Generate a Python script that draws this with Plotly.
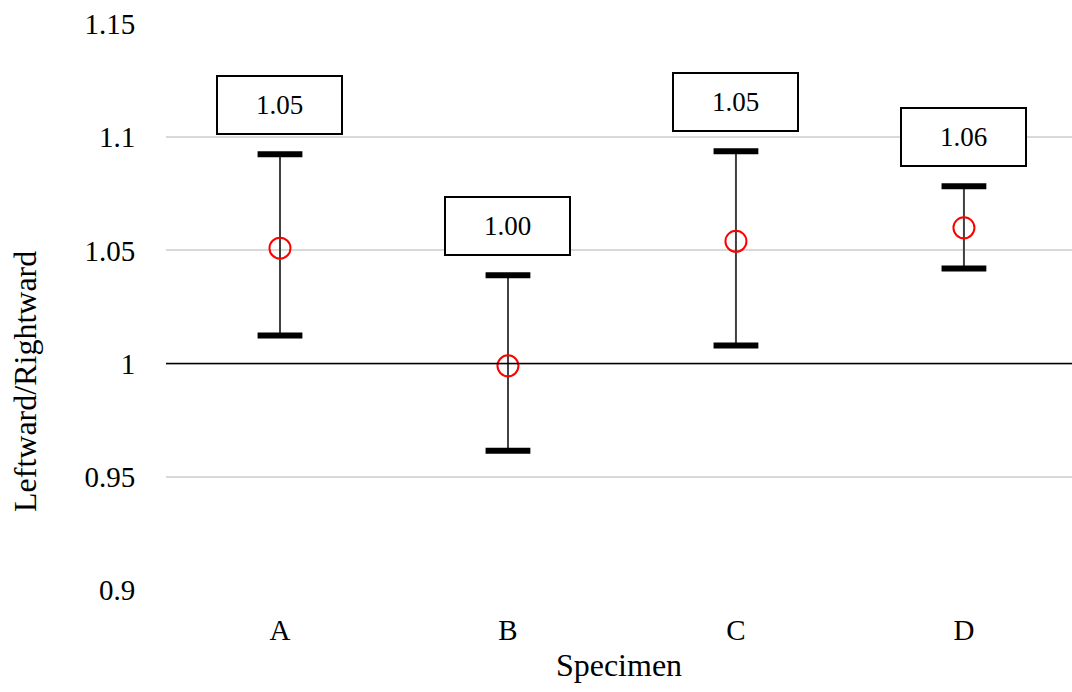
import plotly.graph_objects as go

# Ratio of leftward to rightward response per specimen
specimens = ["A", "B", "C", "D"]
mean_ratio = [1.051, 0.999, 1.054, 1.060]
upper_ratio = [1.0925, 1.0390, 1.0938, 1.0783]
lower_ratio = [1.0124, 0.9615, 1.0080, 1.0420]
y_ticks = [0.9, 0.95, 1.0, 1.05, 1.1, 1.15]
y_tick_text = ["0.9", "0.95", "1", "1.05", "1.1", "1.15"]

FONT = "Liberation Serif, Times New Roman, serif"

err_plus = [u - m for u, m in zip(upper_ratio, mean_ratio)]
err_minus = [m - l for m, l in zip(mean_ratio, lower_ratio)]

fig = go.Figure()

# Error bar stems
fig.add_trace(go.Scatter(
    x=specimens, y=mean_ratio, mode="markers",
    marker=dict(size=1, color="rgba(0,0,0,0)"),
    error_y=dict(type="data", symmetric=False, array=err_plus, arrayminus=err_minus,
                 color="#404040", thickness=2, width=0),
    hoverinfo="skip", showlegend=False,
))

# Thick caps at both ends
fig.add_trace(go.Scatter(
    x=specimens + specimens, y=upper_ratio + lower_ratio, mode="markers",
    marker=dict(symbol="line-ew", size=32, line=dict(color="black", width=6)),
    hoverinfo="skip", showlegend=False,
))

# Mean markers
fig.add_trace(go.Scatter(
    x=specimens, y=mean_ratio, mode="markers",
    marker=dict(symbol="circle-open", size=21, color="#ff0000", line=dict(width=2)),
    showlegend=False,
))

# Reference line at ratio 1
fig.add_hline(y=1.0, line=dict(color="black", width=1.5), layer="above")

# Boxed mean labels above each upper bar
for s, m, u in zip(specimens, mean_ratio, upper_ratio):
    fig.add_annotation(
        x=s, y=u, yanchor="bottom", yshift=19, showarrow=False,
        text=f"{m:.2f}", font=dict(family=FONT, size=27, color="black"),
        width=123, height=56, borderpad=0, borderwidth=2, bordercolor="black",
        bgcolor="white", valign="middle",
    )

# Vertical axis title, centred on the chart area
fig.add_annotation(
    xref="paper", yref="paper", x=0, y=0.3675, xshift=-141, xanchor="center", yanchor="middle",
    text="Leftward/Rightward", textangle=-90, showarrow=False,
    font=dict(family=FONT, size=32, color="black"),
)

fig.update_layout(
    width=1072, height=692,
    margin=dict(l=166, r=0, t=24, b=102),
    plot_bgcolor="white", paper_bgcolor="white",
    font=dict(family=FONT, size=29, color="black"),
    showlegend=False,
)
fig.update_xaxes(
    range=[-0.5, 3.474], showgrid=False, zeroline=False, showline=False,
    ticks="outside", ticklen=14, tickcolor="rgba(0,0,0,0)",
    tickfont=dict(family=FONT, size=29, color="black"),
    title=dict(text="Specimen", font=dict(family=FONT, size=32, color="black"), standoff=8),
)
fig.update_yaxes(
    range=[0.9, 1.15], tickvals=y_ticks, ticktext=y_tick_text,
    showgrid=True, gridcolor="#d9d9d9", gridwidth=2, zeroline=False, showline=False,
    ticks="outside", ticklen=24, tickcolor="rgba(0,0,0,0)",
    tickfont=dict(family=FONT, size=29, color="black"),
)

fig.write_html("out.html")
